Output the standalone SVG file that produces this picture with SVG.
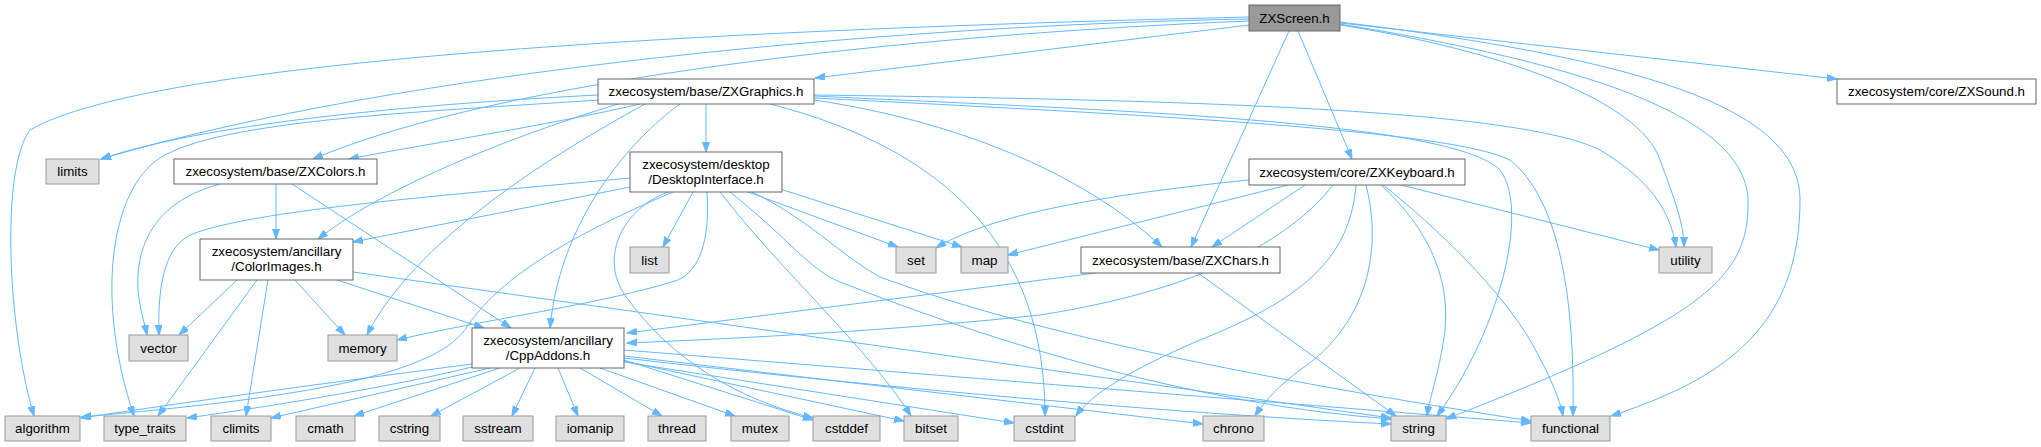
<svg xmlns="http://www.w3.org/2000/svg" width="2041" height="447" viewBox="0 0 2041 447">
<defs>
<marker id="ah" markerUnits="userSpaceOnUse" markerWidth="11" markerHeight="8" refX="10" refY="3.5" orient="auto"><path d="M0,0 L10,3.5 L0,7 Z" fill="#63B8FF" stroke="#63B8FF" stroke-width="1"/></marker>
<style>
.e{fill:none;stroke:#63B8FF;stroke-width:1;marker-end:url(#ah)}
.root rect{fill:#999999;stroke:#666666;stroke-width:1}
.prj rect{fill:#FFFFFF;stroke:#666666;stroke-width:1}
.sys rect{fill:#E0E0E0;stroke:#999999;stroke-width:1}
text{font-family:"Liberation Sans",Arial,Helvetica,sans-serif;font-size:13.33px;fill:#000000;text-anchor:middle}
</style>
</defs>
<rect width="2041" height="447" fill="#FFFFFF"/>
<g id="edges">
<path class="e" d="M1249,25 L815,78"/>
<path class="e" d="M1340,23 L1837,79"/>
<path class="e" d="M1298,31 L1352,159"/>
<path class="e" d="M1289,31 L1191,247"/>
<path class="e" d="M1249,21 C900,35 500,80 313,159"/>
<path class="e" d="M1249,19 C900,25 400,70 101,159"/>
<path class="e" d="M1249,17 C700,30 150,60 30,130 C0,170 8,330 34,416"/>
<path class="e" d="M1340,25 C1500,50 1640,100 1660,160 C1675,200 1684,225 1684,247"/>
<path class="e" d="M1340,24 C1560,60 1745,110 1748,200 C1750,280 1700,320 1446,419"/>
<path class="e" d="M1340,22 C1650,60 1800,110 1800,200 C1800,330 1720,380 1611,416"/>
<path class="e" d="M640,104 C550,125 420,145 349,159"/>
<path class="e" d="M598,95 C400,105 200,125 101,159"/>
<path class="e" d="M599,100 C420,112 220,120 160,158 C110,190 95,300 134,416"/>
<path class="e" d="M618,104 C500,140 380,190 318,239"/>
<path class="e" d="M645,104 C580,140 420,230 367,335"/>
<path class="e" d="M706,104 L706,152"/>
<path class="e" d="M680,104 C630,140 560,220 550,328"/>
<path class="e" d="M814,100 C950,120 1080,170 1162,247"/>
<path class="e" d="M770,104 C950,150 1045,250 1045,416"/>
<path class="e" d="M814,96 C1100,110 1450,120 1500,170 C1530,210 1500,330 1437,416"/>
<path class="e" d="M814,98 C1150,115 1450,130 1510,160 C1560,200 1575,300 1573,416"/>
<path class="e" d="M814,95 C1200,100 1520,110 1600,150 C1650,180 1670,210 1676,247"/>
<path class="e" d="M276,184 L276,239"/>
<path class="e" d="M220,184 C160,200 135,240 138,290 C140,310 145,325 147,335"/>
<path class="e" d="M292,184 L511,328"/>
<path class="e" d="M630,187 L353,242"/>
<path class="e" d="M630,178 C450,195 250,210 190,235 C160,250 158,300 159,335"/>
<path class="e" d="M693,192 L663,247"/>
<path class="e" d="M748,192 L898,247"/>
<path class="e" d="M780,189 L962,247"/>
<path class="e" d="M730,192 C790,240 810,270 840,282 C1000,345 1200,405 1391,419"/>
<path class="e" d="M752,192 C810,220 840,255 880,277 C1050,340 1300,385 1531,421"/>
<path class="e" d="M720,192 C780,270 870,350 911,416"/>
<path class="e" d="M707,192 C710,240 700,270 678,280 C600,305 480,320 397,340"/>
<path class="e" d="M668,192 C620,210 600,260 625,295 C670,360 740,400 813,418"/>
<path class="e" d="M673,192 C560,240 500,280 468,325 C440,375 300,398 81,417"/>
<path class="e" d="M237,280 L179,335"/>
<path class="e" d="M257,280 L158,416"/>
<path class="e" d="M268,280 L246,416"/>
<path class="e" d="M295,280 L345,335"/>
<path class="e" d="M337,280 L484,328"/>
<path class="e" d="M353,272 L1391,418"/>
<path class="e" d="M472,364 C350,380 200,400 81,418"/>
<path class="e" d="M472,367 C400,385 280,405 187,418"/>
<path class="e" d="M490,368 L271,418"/>
<path class="e" d="M500,368 L354,416"/>
<path class="e" d="M520,368 L431,416"/>
<path class="e" d="M535,368 L512,416"/>
<path class="e" d="M558,368 L578,416"/>
<path class="e" d="M580,368 L662,416"/>
<path class="e" d="M600,368 L735,416"/>
<path class="e" d="M624,360 L813,420"/>
<path class="e" d="M624,361 L904,421"/>
<path class="e" d="M624,362 L1014,423"/>
<path class="e" d="M624,356 L1203,424"/>
<path class="e" d="M624,358 C900,390 1200,415 1391,424"/>
<path class="e" d="M624,350 L1531,423"/>
<path class="e" d="M1096,273 L627,333"/>
<path class="e" d="M1198,273 L1396,416"/>
<path class="e" d="M1249,180 C1100,195 990,215 936,248"/>
<path class="e" d="M1288,185 L1008,255"/>
<path class="e" d="M1305,185 L1212,247"/>
<path class="e" d="M1401,185 L1659,250"/>
<path class="e" d="M1333,185 C1290,240 1200,290 1040,315 C900,330 750,338 627,343"/>
<path class="e" d="M1356,185 C1350,260 1300,300 1200,340 C1130,370 1090,395 1076,416"/>
<path class="e" d="M1366,185 C1385,260 1360,330 1300,370 C1280,385 1265,400 1255,416"/>
<path class="e" d="M1381,185 C1430,230 1450,280 1445,330 C1440,370 1430,395 1427,416"/>
<path class="e" d="M1383,185 C1440,230 1500,290 1530,340 C1550,375 1560,400 1563,416"/>
</g>
<g id="n_zxscreen" class="root"><rect x="1249" y="5" width="91" height="26"/><text x="1294.5" y="22.5">ZXScreen.h</text></g>
<g id="n_zxgraphics" class="prj"><rect x="598" y="79" width="216" height="25"/><text x="706" y="96">zxecosystem/base/ZXGraphics.h</text></g>
<g id="n_zxsound" class="prj"><rect x="1837" y="79" width="199" height="25"/><text x="1936.5" y="96">zxecosystem/core/ZXSound.h</text></g>
<g id="n_zxcolors" class="prj"><rect x="174" y="159" width="203" height="25"/><text x="275.5" y="176">zxecosystem/base/ZXColors.h</text></g>
<g id="n_limits" class="sys"><rect x="46" y="159" width="53" height="25"/><text x="72.5" y="176">limits</text></g>
<g id="n_desktop" class="prj"><rect x="630" y="152" width="152" height="40"/><text x="706" y="168.5">zxecosystem/desktop</text><text x="706" y="183.5">/DesktopInterface.h</text></g>
<g id="n_zxkeyboard" class="prj"><rect x="1249" y="159" width="216" height="26"/><text x="1357" y="176.5">zxecosystem/core/ZXKeyboard.h</text></g>
<g id="n_colorimages" class="prj"><rect x="200" y="239" width="153" height="41"/><text x="276.5" y="255.5">zxecosystem/ancillary</text><text x="276.5" y="270.5">/ColorImages.h</text></g>
<g id="n_list" class="sys"><rect x="630" y="247" width="39" height="26"/><text x="649.5" y="264.5">list</text></g>
<g id="n_set" class="sys"><rect x="896" y="247" width="40" height="26"/><text x="916" y="264.5">set</text></g>
<g id="n_map" class="sys"><rect x="961" y="247" width="47" height="26"/><text x="984.5" y="264.5">map</text></g>
<g id="n_zxchars" class="prj"><rect x="1081" y="247" width="199" height="26"/><text x="1180.5" y="264.5">zxecosystem/base/ZXChars.h</text></g>
<g id="n_utility" class="sys"><rect x="1659" y="247" width="53" height="26"/><text x="1685.5" y="264.5">utility</text></g>
<g id="n_vector" class="sys"><rect x="129" y="335" width="59" height="26"/><text x="158.5" y="352.5">vector</text></g>
<g id="n_memory" class="sys"><rect x="328" y="335" width="69" height="26"/><text x="362.5" y="352.5">memory</text></g>
<g id="n_cppaddons" class="prj"><rect x="472" y="328" width="152" height="40"/><text x="548" y="344.5">zxecosystem/ancillary</text><text x="548" y="359.5">/CppAddons.h</text></g>
<g id="n_algorithm" class="sys"><rect x="5" y="416" width="75" height="25"/><text x="42.5" y="433">algorithm</text></g>
<g id="n_type_traits" class="sys"><rect x="104" y="416" width="82" height="25"/><text x="145" y="433">type_traits</text></g>
<g id="n_climits" class="sys"><rect x="211" y="416" width="60" height="25"/><text x="241" y="433">climits</text></g>
<g id="n_cmath" class="sys"><rect x="296" y="416" width="59" height="25"/><text x="325.5" y="433">cmath</text></g>
<g id="n_cstring" class="sys"><rect x="379" y="416" width="61" height="25"/><text x="409.5" y="433">cstring</text></g>
<g id="n_sstream" class="sys"><rect x="463" y="416" width="70" height="25"/><text x="498" y="433">sstream</text></g>
<g id="n_iomanip" class="sys"><rect x="556" y="416" width="68" height="25"/><text x="590" y="433">iomanip</text></g>
<g id="n_thread" class="sys"><rect x="648" y="416" width="58" height="25"/><text x="677" y="433">thread</text></g>
<g id="n_mutex" class="sys"><rect x="731" y="416" width="58" height="25"/><text x="760" y="433">mutex</text></g>
<g id="n_cstddef" class="sys"><rect x="813" y="416" width="67" height="25"/><text x="846.5" y="433">cstddef</text></g>
<g id="n_bitset" class="sys"><rect x="904" y="416" width="54" height="25"/><text x="931" y="433">bitset</text></g>
<g id="n_cstdint" class="sys"><rect x="1014" y="416" width="61" height="25"/><text x="1044.5" y="433">cstdint</text></g>
<g id="n_chrono" class="sys"><rect x="1203" y="416" width="61" height="25"/><text x="1233.5" y="433">chrono</text></g>
<g id="n_string" class="sys"><rect x="1391" y="416" width="55" height="25"/><text x="1418.5" y="433">string</text></g>
<g id="n_functional" class="sys"><rect x="1531" y="416" width="79" height="25"/><text x="1570.5" y="433">functional</text></g>
</svg>
